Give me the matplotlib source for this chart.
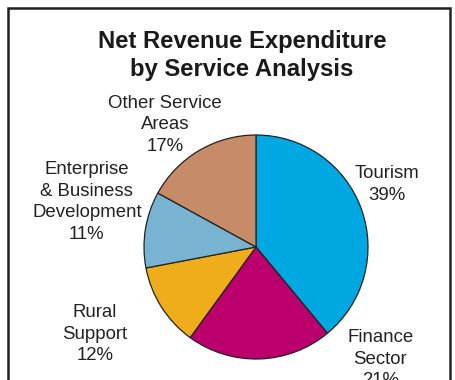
import matplotlib.pyplot as plt
from matplotlib.patches import Rectangle

# expenditure split by service, clockwise from 12 o'clock
services = ["Tourism", "Finance\nSector", "Rural\nSupport",
            "Enterprise\n& Business\nDevelopment", "Other Service\nAreas"]
shares = [39, 21, 12, 11, 17]
colours = ["#00A8E1", "#BB006E", "#F0AD1B", "#78B4D2", "#C68C67"]
label_pos = [(1.17, 0.56), (1.11, -1.0), (-1.44, -0.78), (-1.51, 0.40), (-0.81, 1.09)]

plt.rcParams['font.family'] = ['Liberation Sans', 'DejaVu Sans']

fig = plt.figure(figsize=(4.56, 3.80), dpi=100)

# outer frame, bottom edge runs off the page
fig.patches.append(Rectangle((8 / 456, -0.1), 442 / 456, 1.1 - 8 / 380,
                             transform=fig.transFigure, fill=False,
                             edgecolor="#222222", linewidth=1.8))

fig.text(242 / 456, 1 - 48 / 380, "Net Revenue Expenditure", ha="center",
         va="baseline", fontsize=17.2, fontweight="bold", color="#1a1a1a")
fig.text(242 / 456, 1 - 76 / 380, "by Service Analysis", ha="center",
         va="baseline", fontsize=17.2, fontweight="bold", color="#1a1a1a")

r = 112
ax = fig.add_axes([(256 - r) / 456, (380 - 247 - r) / 380, 2 * r / 456, 2 * r / 380])
ax.pie(shares, colors=colours, startangle=90, counterclock=False, radius=1,
       wedgeprops=dict(edgecolor="#222222", linewidth=0.9))
ax.set_xlim(-1, 1)
ax.set_ylim(-1, 1)
ax.set_aspect("equal")
ax.axis("off")

for name, val, (x, y) in zip(services, shares, label_pos):
    ax.text(x, y, f"{name}\n{val}%", ha="center", va="center", fontsize=13.4,
            color="#222222", linespacing=1.35, clip_on=False)

fig.savefig("out.png", dpi=100)
